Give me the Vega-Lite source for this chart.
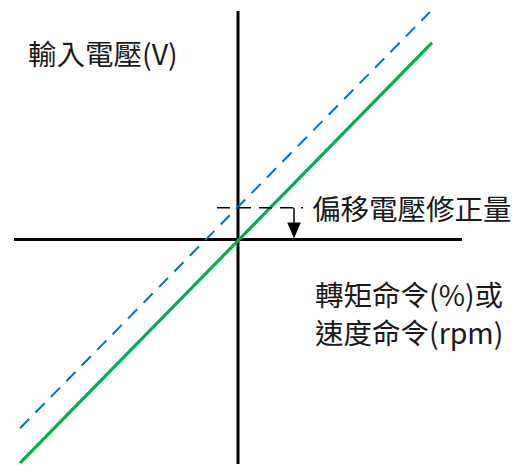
{
  "$schema": "https://vega.github.io/schema/vega-lite/v6.json",
  "width": 516,
  "height": 466,
  "autosize": {"type": "fit", "contains": "padding"},
  "padding": 0,
  "background": "white",
  "config": {"view": {"stroke": null}},
  "datasets": {
    "segs": [
      {"kind": "axis", "x": 0, "y": -226, "x2": 0, "y2": 230},
      {"kind": "axis", "x": -224, "y": 0, "x2": 224, "y2": 0},
      {"kind": "offset", "x": -218, "y": -190, "x2": 192, "y2": 229},
      {"kind": "ideal", "x": -218, "y": -225, "x2": 194, "y2": 198},
      {"kind": "level", "x": -21, "y": 32, "x2": 60, "y2": 32},
      {"kind": "dot", "x": 63, "y": 32, "x2": 65, "y2": 32},
      {"kind": "arrow", "x": 56, "y": 32, "x2": 56, "y2": 14}
    ],
    "heads": [{"x": 56, "y": 9}],
    "labels": [
      {"x": -210, "y": 185, "t": "輸入電壓(V)"},
      {"x": 74, "y": 29, "t": "偏移電壓修正量"},
      {"x": 77, "y": -58, "t": "轉矩命令(%)或"},
      {"x": 77, "y": -96, "t": "速度命令(rpm)"}
    ]
  },
  "layer": [
    {
      "data": {"name": "segs"},
      "mark": {"type": "rule", "strokeCap": "butt"},
      "encoding": {
        "x": {"field": "x", "type": "quantitative", "scale": {"domain": [-238, 278], "nice": false, "zero": false}, "axis": null},
        "y": {"field": "y", "type": "quantitative", "scale": {"domain": [-225, 241], "nice": false, "zero": false}, "axis": null},
        "x2": {"field": "x2"},
        "y2": {"field": "y2"},
        "color": {"field": "kind", "type": "nominal", "legend": null,
          "scale": {"domain": ["axis", "offset", "ideal", "level", "arrow", "dot"], "range": ["#000000", "#0070C0", "#00B050", "#000000", "#000000", "#000000"]}},
        "strokeWidth": {"field": "kind", "type": "nominal", "legend": null,
          "scale": {"type": "ordinal", "domain": ["axis", "offset", "ideal", "level", "arrow", "dot"], "range": [3, 2, 3.2, 1.5, 1.5, 1.5]}},
        "strokeDash": {"field": "kind", "type": "nominal", "legend": null,
          "scale": {"domain": ["axis", "offset", "ideal", "level", "arrow", "dot"], "range": [[1, 0], [13, 9], [1, 0], [13, 8], [1, 0], [1, 0]]}}
      }
    },
    {
      "data": {"name": "heads"},
      "mark": {"type": "point", "shape": "M-0.85,-1L0.85,-1L0,1Z", "filled": true, "color": "#000000", "opacity": 1, "size": 256},
      "encoding": {
        "x": {"field": "x", "type": "quantitative"},
        "y": {"field": "y", "type": "quantitative"}
      }
    },
    {
      "data": {"name": "labels"},
      "mark": {"type": "text", "align": "left", "baseline": "middle", "font": "Noto Sans CJK TC", "fontSize": 28.5, "color": "#1a1a1a"},
      "encoding": {
        "x": {"field": "x", "type": "quantitative"},
        "y": {"field": "y", "type": "quantitative"},
        "text": {"field": "t"}
      }
    }
  ]
}
